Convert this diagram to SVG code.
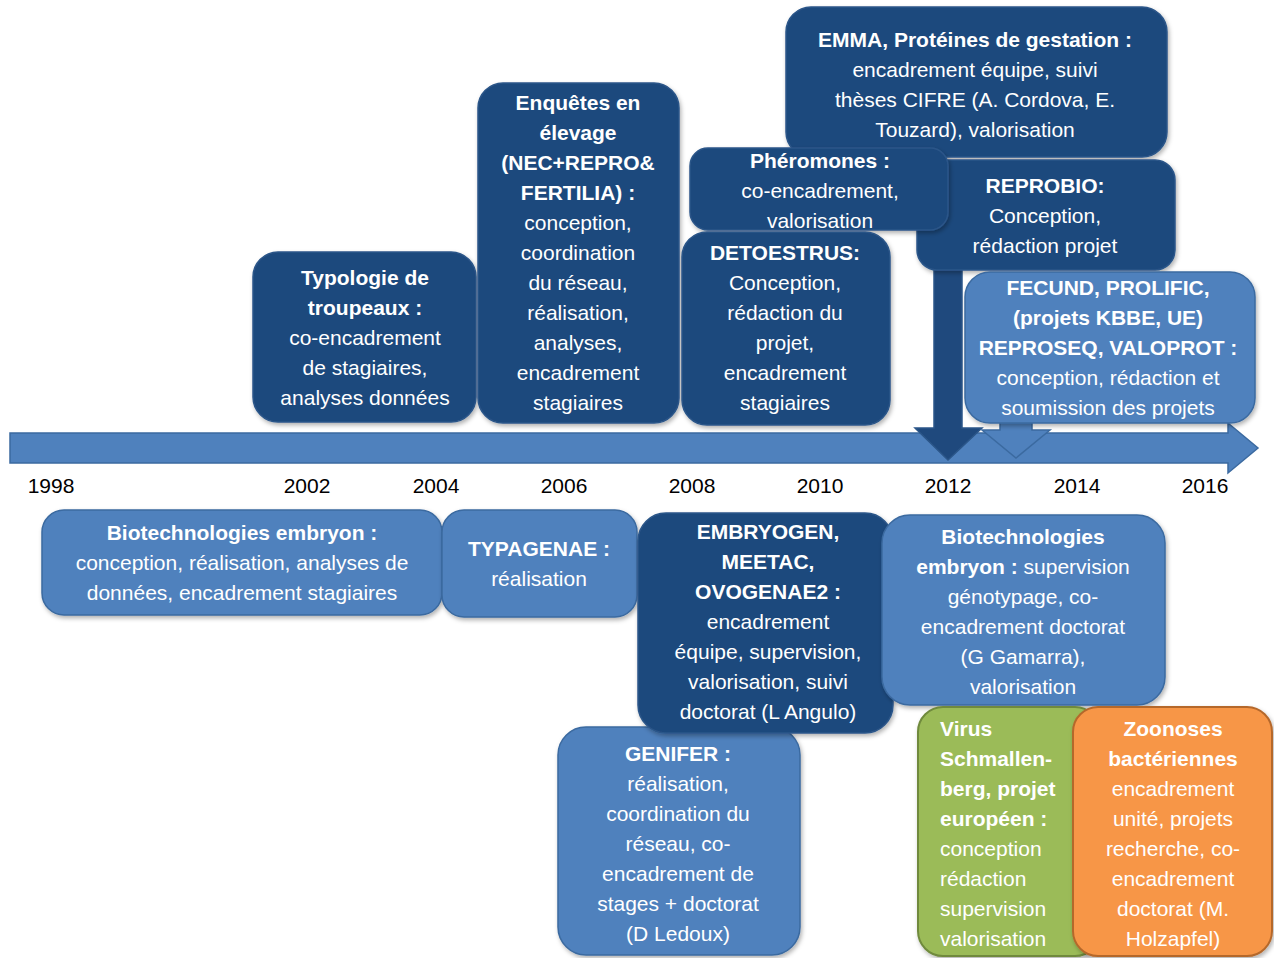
<svg xmlns="http://www.w3.org/2000/svg" width="1274" height="958" viewBox="0 0 1274 958">
<defs>
<filter id="sh" x="-10%" y="-10%" width="120%" height="120%">
<feDropShadow dx="1.5" dy="2.5" stdDeviation="2" flood-color="#000" flood-opacity="0.3"/>
</filter>
<style>
.dark{fill:#1f497d;stroke:#2b5689;stroke-width:1.5;filter:url(#sh)}
.light{fill:#4f81bd;stroke:#3b6aa0;stroke-width:1.5;filter:url(#sh)}
.green{fill:#9bbb59;stroke:#6f8a3c;stroke-width:2;filter:url(#sh)}
.orange{fill:#f79646;stroke:#b5682c;stroke-width:2;filter:url(#sh)}
text{font-family:"Liberation Sans",Arial,sans-serif;font-size:21px;fill:#ffffff}
.c{text-anchor:middle}
.b{font-weight:bold}
.yr{font-family:"Liberation Sans",Arial,sans-serif;font-size:21px;fill:#000;text-anchor:middle}
</style>
</defs>
<rect width="1274" height="958" fill="#ffffff"/>

<g id="timeline">
<polygon points="10,433 1228,433 1228,423 1258,448 1228,473 1228,463 10,463" fill="#4f81bd" stroke="#3b6aa0" stroke-width="1.5"/>
<text class="yr" x="51" y="493">1998</text>
<text class="yr" x="307" y="493">2002</text>
<text class="yr" x="436" y="493">2004</text>
<text class="yr" x="564" y="493">2006</text>
<text class="yr" x="692" y="493">2008</text>
<text class="yr" x="820" y="493">2010</text>
<text class="yr" x="948" y="493">2012</text>
<text class="yr" x="1077" y="493">2014</text>
<text class="yr" x="1205" y="493">2016</text>
</g>

<g id="connectors">
<polygon points="934,265 962,265 962,428 982,428 948,460 915,428 934,428" fill="#1f497d" stroke="#2b5689" stroke-width="1.5"/>
<polygon points="1000,400 1032,400 1032,430 1050,430 1016,458 982,430 1000,430" fill="#4f81bd" stroke="#3b6aa0" stroke-width="1.5"/>
</g>

<g id="typologie">
<rect class="dark" x="253" y="252" width="223" height="170" rx="25"/>
<text class="c b" x="365" y="285">Typologie de</text>
<text class="c b" x="365" y="315">troupeaux :</text>
<text class="c" x="365" y="345">co-encadrement</text>
<text class="c" x="365" y="375">de stagiaires,</text>
<text class="c" x="365" y="405">analyses données</text>
</g>

<g id="enquetes">
<rect class="dark" x="478" y="83" width="201" height="340" rx="25"/>
<text class="c b" x="578" y="110">Enquêtes en</text>
<text class="c b" x="578" y="140">élevage</text>
<text class="c b" x="578" y="170">(NEC+REPRO&amp;</text>
<text class="c b" x="578" y="200">FERTILIA) :</text>
<text class="c" x="578" y="230">conception,</text>
<text class="c" x="578" y="260">coordination</text>
<text class="c" x="578" y="290">du réseau,</text>
<text class="c" x="578" y="320">réalisation,</text>
<text class="c" x="578" y="350">analyses,</text>
<text class="c" x="578" y="380">encadrement</text>
<text class="c" x="578" y="410">stagiaires</text>
</g>

<g id="emma">
<rect class="dark" x="786" y="7" width="381" height="150" rx="25"/>
<text class="c b" x="975" y="47">EMMA, Protéines de gestation :</text>
<text class="c" x="975" y="77">encadrement équipe, suivi</text>
<text class="c" x="975" y="107">thèses CIFRE (A. Cordova, E.</text>
<text class="c" x="975" y="137">Touzard), valorisation</text>
</g>

<g id="reprobio">
<rect class="dark" x="917" y="160" width="258" height="110" rx="20"/>
<text class="c b" x="1045" y="193">REPROBIO:</text>
<text class="c" x="1045" y="223">Conception,</text>
<text class="c" x="1045" y="253">rédaction projet</text>
</g>

<g id="pheromones">
<rect class="dark" x="690" y="148" width="258" height="82" rx="18"/>
<text class="c b" x="820" y="168">Phéromones :</text>
<text class="c" x="820" y="198">co-encadrement,</text>
<text class="c" x="820" y="228">valorisation</text>
</g>

<g id="detoestrus">
<rect class="dark" x="682" y="232" width="208" height="193" rx="25"/>
<text class="c b" x="785" y="260">DETOESTRUS:</text>
<text class="c" x="785" y="290">Conception,</text>
<text class="c" x="785" y="320">rédaction du</text>
<text class="c" x="785" y="350">projet,</text>
<text class="c" x="785" y="380">encadrement</text>
<text class="c" x="785" y="410">stagiaires</text>
</g>

<g id="fecund">
<rect class="light" x="965" y="272" width="290" height="151" rx="25"/>
<text class="c b" x="1108" y="295">FECUND, PROLIFIC,</text>
<text class="c b" x="1108" y="325">(projets KBBE, UE)</text>
<text class="c b" x="1108" y="355">REPROSEQ, VALOPROT :</text>
<text class="c" x="1108" y="385">conception, rédaction et</text>
<text class="c" x="1108" y="415">soumission des projets</text>
</g>

<g id="biotech1">
<rect class="light" x="42" y="510" width="400" height="105" rx="22"/>
<text class="c b" x="242" y="540">Biotechnologies embryon :</text>
<text class="c" x="242" y="570">conception, réalisation, analyses de</text>
<text class="c" x="242" y="600">données, encadrement stagiaires</text>
</g>

<g id="typagenae">
<rect class="light" x="442" y="510" width="195" height="107" rx="22"/>
<text class="c b" x="539" y="556">TYPAGENAE :</text>
<text class="c" x="539" y="586">réalisation</text>
</g>

<g id="genifer">
<rect class="light" x="558" y="727" width="242" height="228" rx="28"/>
<text class="c b" x="678" y="761">GENIFER :</text>
<text class="c" x="678" y="791">réalisation,</text>
<text class="c" x="678" y="821">coordination du</text>
<text class="c" x="678" y="851">réseau, co-</text>
<text class="c" x="678" y="881">encadrement de</text>
<text class="c" x="678" y="911">stages + doctorat</text>
<text class="c" x="678" y="941">(D Ledoux)</text>
</g>

<g id="embryogen">
<rect class="dark" x="638" y="513" width="255" height="220" rx="28"/>
<text class="c b" x="768" y="539">EMBRYOGEN,</text>
<text class="c b" x="768" y="569">MEETAC,</text>
<text class="c b" x="768" y="599">OVOGENAE2 :</text>
<text class="c" x="768" y="629">encadrement</text>
<text class="c" x="768" y="659">équipe, supervision,</text>
<text class="c" x="768" y="689">valorisation, suivi</text>
<text class="c" x="768" y="719">doctorat (L Angulo)</text>
</g>

<g id="biotech2">
<rect class="light" x="882" y="515" width="283" height="190" rx="28"/>
<text class="c b" x="1023" y="544">Biotechnologies</text>
<text class="c" x="1023" y="574"><tspan class="b">embryon :</tspan> supervision</text>
<text class="c" x="1023" y="604">génotypage, co-</text>
<text class="c" x="1023" y="634">encadrement doctorat</text>
<text class="c" x="1023" y="664">(G Gamarra),</text>
<text class="c" x="1023" y="694">valorisation</text>
</g>

<g id="virus">
<rect class="green" x="918" y="707" width="182" height="249" rx="25"/>
<text class="b" x="940" y="736">Virus</text>
<text class="b" x="940" y="766">Schmallen-</text>
<text class="b" x="940" y="796">berg, projet</text>
<text class="b" x="940" y="826">européen :</text>
<text x="940" y="856">conception</text>
<text x="940" y="886">rédaction</text>
<text x="940" y="916">supervision</text>
<text x="940" y="946">valorisation</text>
</g>

<g id="zoonoses">
<rect class="orange" x="1073" y="707" width="199" height="249" rx="25"/>
<text class="c b" x="1173" y="736">Zoonoses</text>
<text class="c b" x="1173" y="766">bactériennes</text>
<text class="c" x="1173" y="796">encadrement</text>
<text class="c" x="1173" y="826">unité, projets</text>
<text class="c" x="1173" y="856">recherche, co-</text>
<text class="c" x="1173" y="886">encadrement</text>
<text class="c" x="1173" y="916">doctorat (M.</text>
<text class="c" x="1173" y="946">Holzapfel)</text>
</g>
</svg>
